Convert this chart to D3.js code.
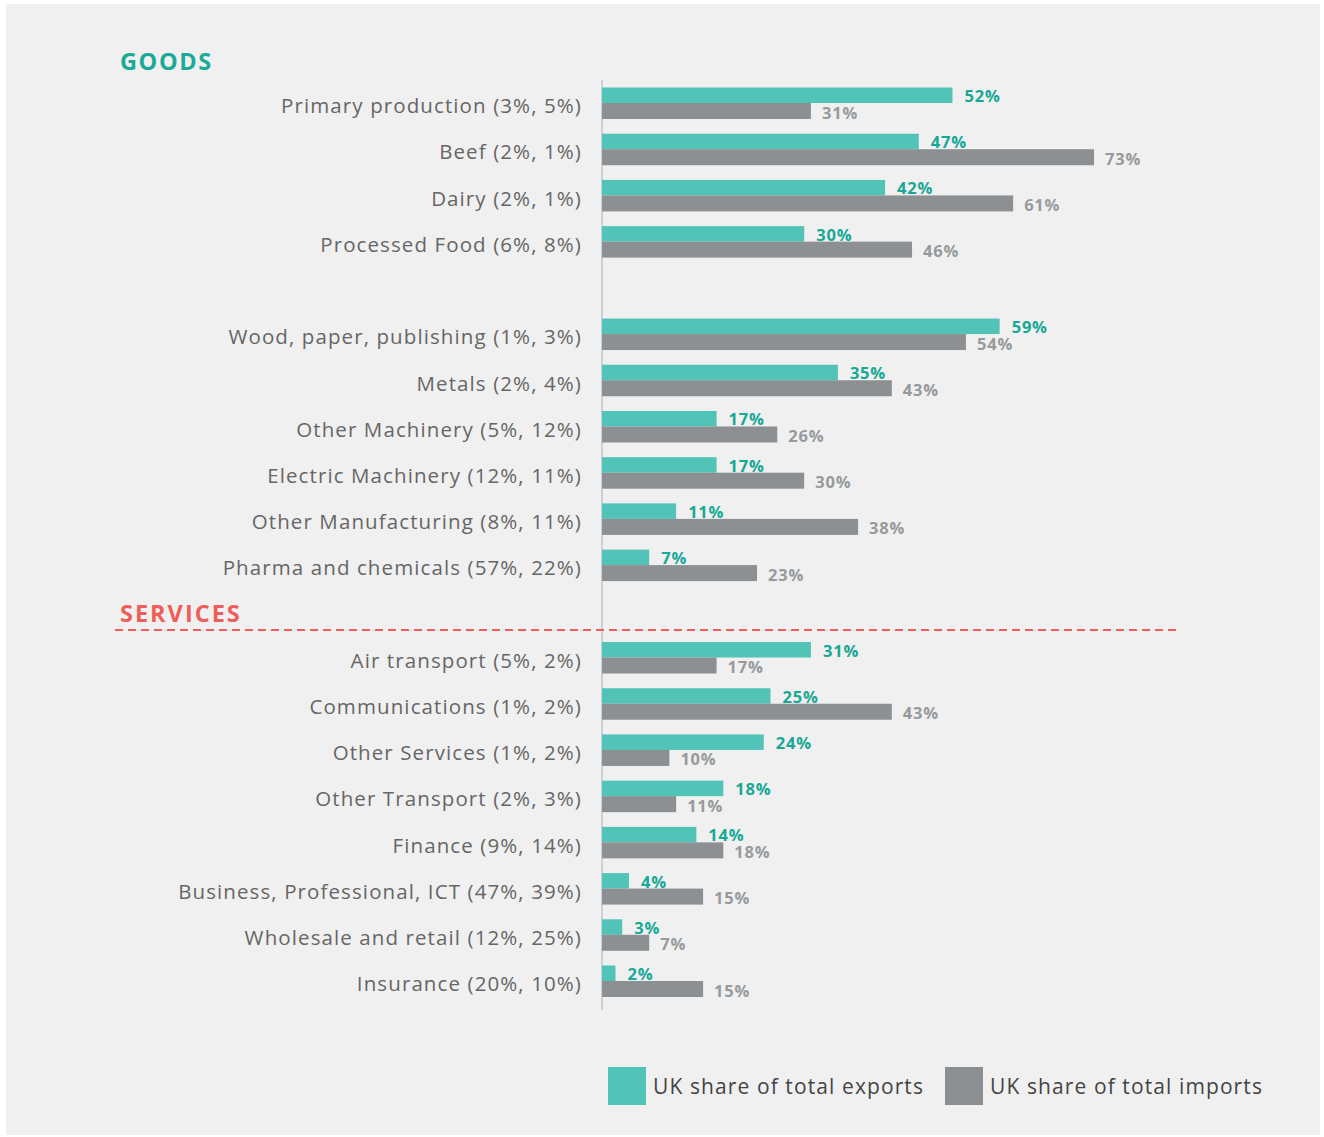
<!DOCTYPE html>
<html>
<head>
<meta charset="utf-8">
<script src="https://cdn.jsdelivr.net/npm/d3@7"></script>
<style>
  html, body { margin: 0; padding: 0; background: #fff; }
  svg { display: block; }
</style>
</head>
<body>
<svg id="chart" width="1324" height="1137"></svg>
<script>
// goods and services rows, top to bottom
const goodsNames = ['Primary production (3%, 5%)', 'Beef (2%, 1%)', 'Dairy (2%, 1%)', 'Processed Food (6%, 8%)',
  'Wood, paper, publishing (1%, 3%)', 'Metals (2%, 4%)', 'Other Machinery (5%, 12%)', 'Electric Machinery (12%, 11%)',
  'Other Manufacturing (8%, 11%)', 'Pharma and chemicals (57%, 22%)']
const goodsExports = [52, 47, 42, 30, 59, 35, 17, 17, 11, 7]
const goodsImports = [31, 73, 61, 46, 54, 43, 26, 30, 38, 23]

const servicesNames = ['Air transport (5%, 2%)', 'Communications (1%, 2%)', 'Other Services (1%, 2%)', 'Other Transport (2%, 3%)',
  'Finance (9%, 14%)', 'Business, Professional, ICT (47%, 39%)', 'Wholesale and retail (12%, 25%)', 'Insurance (20%, 10%)']
const servicesExports = [31, 25, 24, 18, 14, 4, 3, 2]
const servicesImports = [17, 43, 10, 11, 18, 15, 7, 15]

const legendLabels = ['UK share of total exports', 'UK share of total imports']

const TEAL = '#52c3b7'
const GREY = '#8d9093'
const FONT = '"Open Sans", sans-serif'

const svg = d3.select('#chart')

svg.append('rect').attr('x', 6).attr('y', 4).attr('width', 1314).attr('height', 1131).attr('fill', '#f0f0f0')

const goods = goodsNames.map((name, i) => ({ name, exp: goodsExports[i], imp: goodsImports[i] }))
const services = servicesNames.map((name, i) => ({ name, exp: servicesExports[i], imp: servicesImports[i] }))

// blank slots keep the gap after Processed Food and room for the services header
const rows = [...goods.slice(0, 4), { name: 'gap1' }, ...goods.slice(4), { name: 'gap2' }, ...services]
const data = rows.filter(d => d.exp != null)

const y = d3.scalePoint().domain(rows.map(d => d.name)).range([103, 981])
const x = d3.scaleLinear().domain([0, 100]).range([602, 1276])

const barH = 15.5

// axis line
svg.append('line')
  .attr('x1', x(0)).attr('x2', x(0))
  .attr('y1', 80).attr('y2', 1010)
  .attr('stroke', '#c8d2da').attr('stroke-width', 2)

const row = svg.selectAll('.row').data(data).enter().append('g')
  .attr('class', 'row')
  .attr('transform', d => `translate(0, ${y(d.name)})`)

row.append('text')
  .attr('x', 582).attr('y', 0).attr('dy', '0.5em')
  .attr('text-anchor', 'end')
  .attr('font-family', FONT).attr('font-size', 20.5)
  .attr('letter-spacing', 1.1)
  .attr('fill', '#666')
  .text(d => d.name)

row.append('rect')
  .attr('x', x(0)).attr('y', -barH)
  .attr('width', d => x(d.exp) - x(0)).attr('height', barH)
  .attr('fill', TEAL)

row.append('rect')
  .attr('x', x(0)).attr('y', 0)
  .attr('width', d => x(d.imp) - x(0)).attr('height', barH + 0.5)
  .attr('fill', GREY)

row.append('text')
  .attr('x', d => x(d.exp) + 12).attr('y', -1)
  .attr('font-family', FONT).attr('font-size', 16.5).attr('font-weight', 700)
  .attr('letter-spacing', 0.8)
  .attr('fill', '#17a896')
  .text(d => d.exp + '%')

row.append('text')
  .attr('x', d => x(d.imp) + 11).attr('y', barH)
  .attr('font-family', FONT).attr('font-size', 16.5).attr('font-weight', 700)
  .attr('letter-spacing', 0.8)
  .attr('fill', '#979a9c')
  .text(d => d.imp + '%')

// section headers
svg.append('text')
  .attr('x', 120).attr('y', 70)
  .attr('font-family', FONT).attr('font-size', 23.5).attr('font-weight', 700)
  .attr('letter-spacing', 1.6)
  .attr('fill', '#1aab98')
  .text('GOODS')

svg.append('text')
  .attr('x', 120).attr('y', 622)
  .attr('font-family', FONT).attr('font-size', 23.5).attr('font-weight', 700)
  .attr('letter-spacing', 2)
  .attr('fill', '#ee5e5a')
  .text('SERVICES')

svg.append('line')
  .attr('x1', 115).attr('x2', 1176)
  .attr('y1', 630).attr('y2', 630)
  .attr('stroke', '#ee5e5a').attr('stroke-width', 2)
  .attr('stroke-dasharray', '8,5')

// legend
const legend = svg.selectAll('.legend').data(legendLabels).enter().append('g')
  .attr('class', 'legend')
  .attr('transform', (d, i) => `translate(${[608, 945][i]}, 1067)`)

legend.append('rect')
  .attr('width', 38).attr('height', 38)
  .attr('fill', (d, i) => [TEAL, GREY][i])

legend.append('text')
  .attr('x', 45).attr('y', 19).attr('dy', '0.36em')
  .attr('font-family', FONT).attr('font-size', 21).attr('font-weight', 500)
  .attr('letter-spacing', 1.1)
  .attr('fill', '#444')
  .text(d => d)
</script>
</body>
</html>
